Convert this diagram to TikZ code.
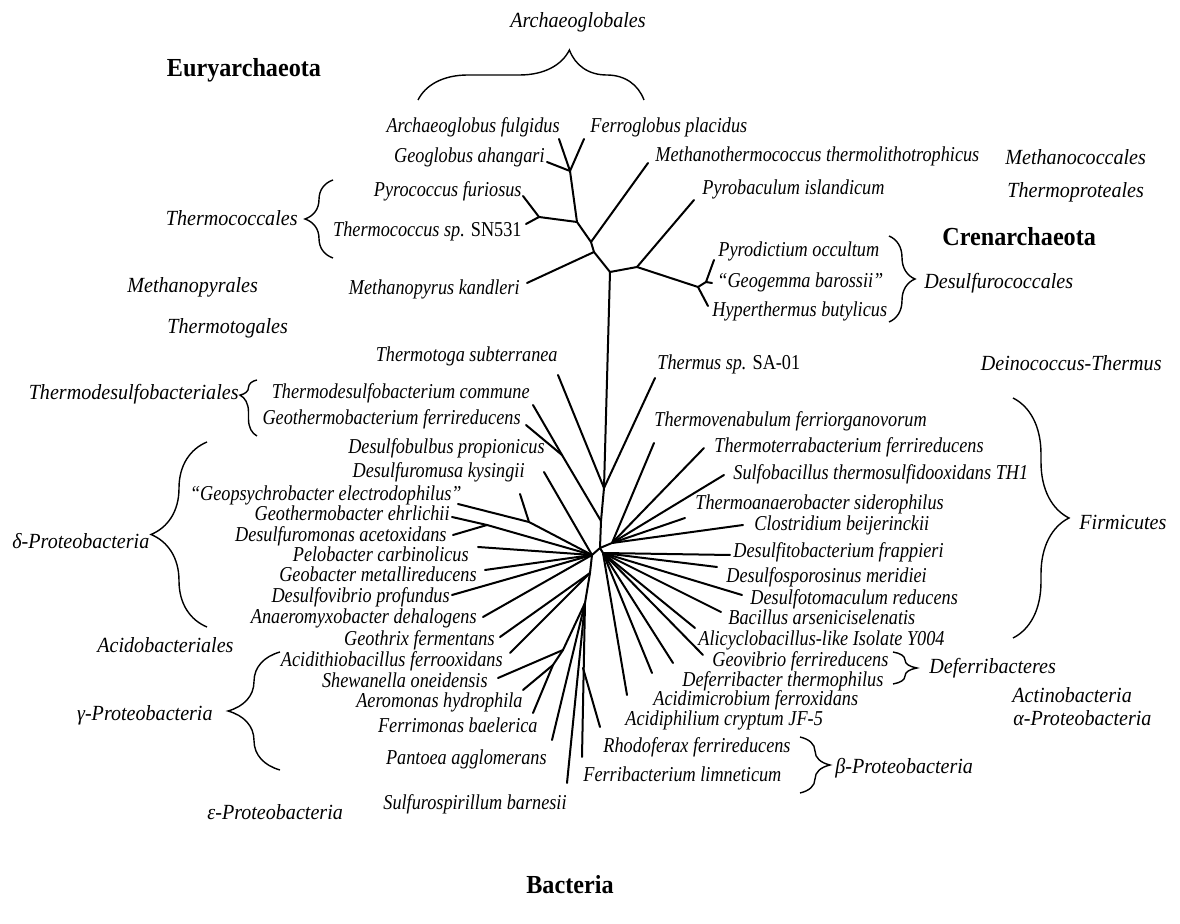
\documentclass[tikz,border=0pt]{standalone}
\usepackage{fontspec}
\setmainfont{Liberation Serif}
\newfontfamily\spfont{Liberation Serif}[FakeStretch=0.86]
\newfontfamily\grfont{Liberation Serif}[FakeStretch=0.93]
\usetikzlibrary{decorations.pathreplacing}

\tikzset{
  sp/.style={font=\spfont\itshape\fontsize{10.6}{12}\selectfont, inner sep=0pt,
    text height=6.5pt, text depth=1.5pt},
  grp/.style={font=\grfont\itshape\fontsize{10.8}{12}\selectfont, inner sep=0pt},
  phy/.style={font=\grfont\bfseries\fontsize{13}{15}\selectfont, inner sep=0pt},
  twig/.style={line width=1pt, line cap=round},
  br/.style={decorate, decoration={brace, amplitude=#1}, line width=0.7pt},
}

\begin{document}
\begin{tikzpicture}[x=0.5pt, y=-0.5pt]
    \useasboundingbox (0,0) rectangle (1180,924);

    % phyla and orders
    \node[phy] (eury) at (244,70) {Euryarchaeota};
    \node[phy, anchor=west] (cren) at (942,237) {Crenarchaeota};
    \node[phy] (bact) at (570,885) {Bacteria};
    \node[grp] (archaeo) at (578,22) {Archaeoglobales};
    \node[grp, anchor=west] (methcoc) at (1005,157) {Methanococcales};
    \node[grp, anchor=west] (thprot) at (1007,192) {Thermoproteales};
    \node[grp, anchor=east] (thcoc) at (298,218) {Thermococcales};
    \node[grp, anchor=west] (methpyr) at (127,287) {Methanopyrales};
    \node[grp, anchor=west] (desulfc) at (924,283) {Desulfurococcales};
    \node[grp, anchor=west] (thtog) at (167,328) {Thermotogales};
    \node[grp, anchor=east] (deino) at (1162,363) {Deinococcus-Thermus};
    \node[grp, anchor=east] (thdes) at (239,394) {Thermodesulfobacteriales};
    \node[grp, anchor=west] (delta) at (12,541) {δ-Proteobacteria};
    \node[grp, anchor=west] (acido) at (97,645) {Acidobacteriales};
    \node[grp, anchor=east] (gamma) at (213,715) {γ-Proteobacteria};
    \node[grp, anchor=west] (eps) at (207,812) {ε-Proteobacteria};
    \node[grp, anchor=west] (defer) at (929,668) {Deferribacteres};
    \node[grp, anchor=west] (firm) at (1079,522) {Firmicutes};
    \node[grp, anchor=west] (actino) at (1012,695) {Actinobacteria};
    \node[grp, anchor=west] (alpha) at (1013,718) {α-Proteobacteria};
    \node[grp, anchor=west] (beta) at (835,768) {β-Proteobacteria};

    % braces
    \draw[br=25pt, decoration={aspect=0.67}] (418,100) -- (644,100);
    \draw[br=14pt] (333,258) -- (333,180);
    \draw[br=13pt] (889,236) -- (889,322);
    \draw[br=8.5pt, decoration={aspect=0.73}] (257,436) -- (257,380);
    \draw[br=28pt] (207,627) -- (207,442);
    \draw[br=26pt] (280,770) -- (280,652);
    \draw[br=28pt] (1013,398) -- (1013,638);
    \draw[br=12pt] (893,652) -- (893,684);
    \draw[br=15pt] (800,737) -- (800,793);

    % archaea
    \node[sp, anchor=east] (nAf) at (560,128) {Archaeoglobus fulgidus};
    \node[sp, anchor=west] (nFp) at (590,128) {Ferroglobus placidus};
    \node[sp, anchor=east] (nGa) at (545,158) {Geoglobus ahangari};
    \node[sp, anchor=west] (nMt) at (655,157) {Methanothermococcus thermolithotrophicus};
    \node[sp, anchor=east] (nPf) at (522,192) {Pyrococcus furiosus};
    \node[sp, anchor=west] (nPi) at (702,190) {Pyrobaculum islandicum};
    \node[sp, anchor=east] (nTs) at (522,232) {Thermococcus sp. {\upshape SN531}};
    \node[sp, anchor=west] (nPo) at (718,252) {Pyrodictium occultum};
    \node[sp, anchor=west] (nGb) at (717,283) {“Geogemma barossii”};
    \node[sp, anchor=east] (nMk) at (520,290) {Methanopyrus kandleri};
    \node[sp, anchor=west] (nHb) at (712,312) {Hyperthermus butylicus};

    % bacteria, left
    \node[sp, anchor=east] (nTsub) at (558,357) {Thermotoga subterranea};
    \node[sp, anchor=east] (nTc) at (530,394) {Thermodesulfobacterium commune};
    \node[sp, anchor=east] (nGf) at (521,420) {Geothermobacterium ferrireducens};
    \node[sp, anchor=east] (nDp) at (545,449) {Desulfobulbus propionicus};
    \node[sp, anchor=east] (nDk) at (525,473) {Desulfuromusa kysingii};
    \node[sp, anchor=east] (nGe) at (462,496) {“Geopsychrobacter electrodophilus”};
    \node[sp, anchor=east] (nGeh) at (450,516) {Geothermobacter ehrlichii};
    \node[sp, anchor=east] (nDa) at (447,537) {Desulfuromonas acetoxidans};
    \node[sp, anchor=east] (nPc) at (469,557) {Pelobacter carbinolicus};
    \node[sp, anchor=east] (nGm) at (477,577) {Geobacter metallireducens};
    \node[sp, anchor=east] (nDpr) at (450,598) {Desulfovibrio profundus};
    \node[sp, anchor=east] (nAd) at (477,619) {Anaeromyxobacter dehalogens};
    \node[sp, anchor=east] (nGfe) at (495,641) {Geothrix fermentans};
    \node[sp, anchor=east] (nAt) at (503,662) {Acidithiobacillus ferrooxidans};
    \node[sp, anchor=east] (nSo) at (488,683) {Shewanella oneidensis};
    \node[sp, anchor=east] (nAh) at (523,703) {Aeromonas hydrophila};
    \node[sp, anchor=east] (nFb) at (538,728) {Ferrimonas baelerica};
    \node[sp, anchor=east] (nPa) at (547,760) {Pantoea agglomerans};
    \node[sp, anchor=east] (nSb) at (567,805) {Sulfurospirillum barnesii};

    % bacteria, right
    \node[sp, anchor=west] (nThm) at (657,365) {Thermus sp. {\upshape SA-01}};
    \node[sp, anchor=west] (nTv) at (654,422) {Thermovenabulum ferriorganovorum};
    \node[sp, anchor=west] (nTt) at (714,448) {Thermoterrabacterium ferrireducens};
    \node[sp, anchor=west] (nSt) at (733,475) {Sulfobacillus thermosulfidooxidans TH1};
    \node[sp, anchor=west] (nTa) at (695,505) {Thermoanaerobacter siderophilus};
    \node[sp, anchor=west] (nCb) at (754,526) {Clostridium beijerinckii};
    \node[sp, anchor=west] (nDf) at (733,553) {Desulfitobacterium frappieri};
    \node[sp, anchor=west] (nDm) at (726,578) {Desulfosporosinus meridiei};
    \node[sp, anchor=west] (nDr) at (750,600) {Desulfotomaculum reducens};
    \node[sp, anchor=west] (nBa) at (728,620) {Bacillus arseniciselenatis};
    \node[sp, anchor=west] (nAl) at (698,641) {Alicyclobacillus-like Isolate Y004};
    \node[sp, anchor=west] (nGv) at (712,662) {Geovibrio ferrireducens};
    \node[sp, anchor=west] (nDt) at (682,682) {Deferribacter thermophilus};
    \node[sp, anchor=west] (nAm) at (653,701) {Acidimicrobium ferroxidans};
    \node[sp, anchor=west] (nAc) at (625,721) {Acidiphilium cryptum JF-5};
    \node[sp, anchor=west] (nRf) at (603,748) {Rhodoferax ferrireducens};
    \node[sp, anchor=west] (nFl) at (583,777) {Ferribacterium limneticum};

    % inner nodes of the tree
    \coordinate (a1) at (570,171);
    \coordinate (a2) at (577,222);
    \coordinate (a3) at (591,242);
    \coordinate (a4) at (594,252);
    \coordinate (a5) at (610,272);
    \coordinate (a6) at (637,267);
    \coordinate (a7) at (698,287);
    \coordinate (a8) at (706,282);
    \coordinate (tc) at (539,217);
    \coordinate (b1) at (604,488);
    \coordinate (b2) at (601,521);
    \coordinate (h0) at (600,548);
    \coordinate (h1) at (592,555);
    \coordinate (h2) at (590,573);
    \coordinate (h3) at (585,603);
    \coordinate (r1) at (612,543);
    \coordinate (r2) at (603,553);
    \coordinate (td) at (562,455);
    \coordinate (dk) at (529,522);
    \coordinate (gd) at (487,525);
    \coordinate (g1) at (563,650);
    \coordinate (g2) at (553,665);
    \coordinate (rf) at (583,668);

    % leaf ends
    \coordinate (Af) at (559,139);
    \coordinate (Fp) at (584,139);
    \coordinate (Ga) at (547,162);
    \coordinate (Mt) at (648,163);
    \coordinate (Pf) at (523,196);
    \coordinate (Ts) at (526,224);
    \coordinate (Pi) at (694,200);
    \coordinate (Mk) at (527,283);
    \coordinate (Po) at (714,260);
    \coordinate (Gb) at (712,283);
    \coordinate (Hb) at (708,306);
    \coordinate (Tsub) at (558,375);
    \coordinate (Thm) at (655,378);
    \coordinate (Tc) at (533,405);
    \coordinate (Gf) at (526,425);
    \coordinate (Dp) at (544,472);
    \coordinate (Dk) at (520,494);
    \coordinate (Ge) at (458,504);
    \coordinate (Geh) at (452,517);
    \coordinate (Da) at (453,535);
    \coordinate (Pc) at (478,547);
    \coordinate (Gm) at (485,570);
    \coordinate (Dpr) at (452,595);
    \coordinate (Ad) at (483,617);
    \coordinate (Gfe) at (500,637);
    \coordinate (At) at (510,653);
    \coordinate (So) at (498,678);
    \coordinate (Ah) at (523,690);
    \coordinate (Fb) at (533,713);
    \coordinate (Pa) at (552,740);
    \coordinate (Sb) at (567,783);
    \coordinate (Fl) at (582,757);
    \coordinate (Rf) at (600,727);
    \coordinate (Tv) at (654,443);
    \coordinate (Tt) at (704,448);
    \coordinate (St) at (724,475);
    \coordinate (Ta) at (685,518);
    \coordinate (Cb) at (743,525);
    \coordinate (Df) at (730,555);
    \coordinate (Dm) at (717,567);
    \coordinate (Dr) at (742,595);
    \coordinate (Ba) at (721,612);
    \coordinate (Al) at (695,628);
    \coordinate (Gv) at (703,655);
    \coordinate (Dt) at (673,663);
    \coordinate (Am) at (652,673);
    \coordinate (Ac) at (627,695);

    % branches
    \foreach \u/\v in {Af/a1, Fp/a1, Ga/a1, a1/a2, Pf/tc, Ts/tc, tc/a2, a2/a3,
        Mt/a3, a3/a4, Mk/a4, a4/a5, a5/a6, Pi/a6, a6/a7, Hb/a7, a7/a8, Po/a8, Gb/a8,
        a5/b1, b1/b2, b2/h0, h0/h1, h1/h2, h2/h3, h0/r1, h0/r2,
        Tsub/b1, Thm/b1, Tc/td, Gf/td, td/b2, Dp/h1, Dk/dk, Ge/dk, dk/h1,
        Geh/gd, Da/gd, gd/h1, Pc/h1, Gm/h1, Dpr/h1, Ad/h1, Gfe/h2, At/h2,
        So/g1, Ah/g2, Fb/g2, g2/g1, g1/h3, Pa/h3, Sb/h3, Fl/h3, Rf/rf,
        Tv/r1, Tt/r1, St/r1, Ta/r1, Cb/r1, Df/r2, Dm/r2, Dr/r2, Ba/r2,
        Al/r2, Gv/r2, Dt/r2, Am/r2, Ac/r2}
        \draw[twig] (\u) -- (\v);
\end{tikzpicture}
\end{document}
